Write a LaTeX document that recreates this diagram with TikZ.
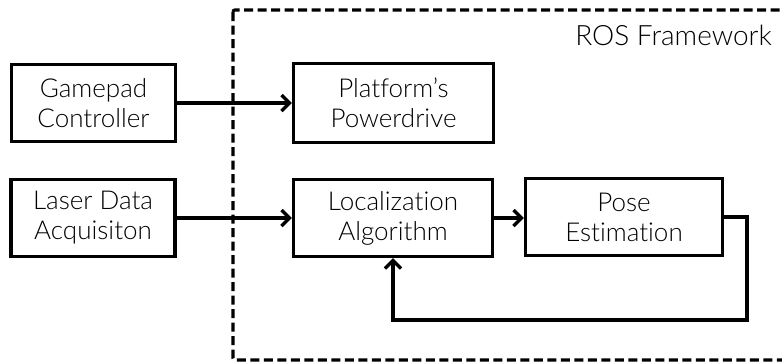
\documentclass[tikz,border=0pt]{standalone}
\usepackage{fontspec}
\setmainfont{Lato Light}[Ligatures=CommonOff]
\usetikzlibrary{arrows.meta}

\tikzset{
  block/.style={draw, line width=3.2pt, minimum width=164pt, minimum height=77pt,
    inner sep=0pt, align=center, font=\fontsize{26}{30}\selectfont},
  flow/.style={line width=3.4pt, -{Straight Barb[length=8pt,width=16pt,line width=3.4pt]}},
  frame/.style={line width=3.2pt, dash pattern=on 9pt off 4.5pt, rounded corners=2pt}
}

\begin{document}
\begin{tikzpicture}[x=1pt,y=-1pt]
  \useasboundingbox (0,0) rectangle (782,362);
  \clip (0,0) rectangle (782,362);

  % ROS framework boundary
  \draw[frame] (233,10) rectangle (800,360);
  \node[anchor=base east, inner sep=0pt, font=\fontsize{28}{32}\selectfont]
    (ros) at (772,45) {ROS Framework};

  % blocks
  \node[block] (pad) at (93.5,103) {Gamepad\\Controller};
  \node[block] (laser) at (93,218) {Laser Data\\Acquisiton};
  \node[block, minimum width=200pt, minimum height=79pt] (drive) at (393.5,103) {Platform’s\\Powerdrive};
  \node[block, minimum width=199pt] (loc) at (393,218) {Localization\\Algorithm};
  \node[block, minimum width=197pt] (pose) at (624,217) {Pose\\Estimation};

  % connectors
  \draw[flow] (pad) -- (drive);
  \draw[flow] (laser) -- (loc);
  \draw[flow] (loc.east) -- (pose.west |- loc.east);
  \coordinate (fbR) at (747,320);
  \draw[flow] (pose.east) -- (pose.east -| fbR) -- (fbR) -- (fbR -| 393,0) -- (loc.south -| 393,0);
\end{tikzpicture}
\end{document}
